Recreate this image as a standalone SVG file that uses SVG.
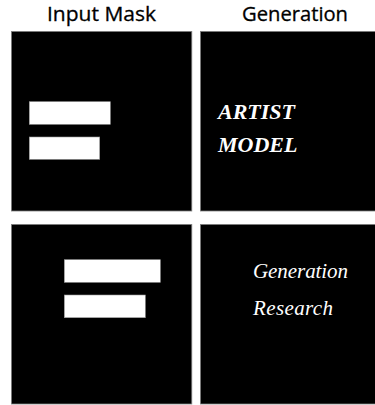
<svg xmlns="http://www.w3.org/2000/svg" width="375" height="405" viewBox="0 0 375 405">
<style>
.panel{fill:#000;stroke:#808080;stroke-width:0.8}
.bar{fill:#fff;stroke:#999;stroke-width:0.6}
.hdr{font-family:"Open Sans","Liberation Sans",sans-serif;font-size:20px;fill:#000;stroke:#000;stroke-width:0.3}
.art{font-family:"Liberation Serif",serif;font-style:italic;font-weight:bold;font-size:22px;fill:#fff}
.gen{font-family:"Liberation Serif",serif;font-style:italic;font-size:21px;fill:#fff}
</style>
<rect width="375" height="405" fill="#fff"/>
<text class="hdr" x="47" y="21" textLength="109" lengthAdjust="spacingAndGlyphs">Input Mask</text>
<text class="hdr" x="242" y="21" textLength="106" lengthAdjust="spacingAndGlyphs">Generation</text>
<g id="mask1">
<rect class="panel" x="11.4" y="31.4" width="180.4" height="179.6"/>
<rect class="bar" x="29.3" y="101.7" width="81" height="22.6"/>
<rect class="bar" x="29.3" y="137" width="70.4" height="22.3"/>
</g>
<g id="gen1">
<rect class="panel" x="200.4" y="31.4" width="176" height="179.6"/>
<text class="art" x="218" y="119">ARTIST</text>
<text class="art" x="218" y="152">MODEL</text>
</g>
<g id="mask2">
<rect class="panel" x="11.4" y="224.4" width="180.4" height="179.6"/>
<rect class="bar" x="64.3" y="259.7" width="96" height="22.6"/>
<rect class="bar" x="64.3" y="295" width="81" height="22.7"/>
</g>
<g id="gen2">
<rect class="panel" x="200.4" y="224.4" width="176" height="179.6"/>
<text class="gen" x="253" y="278" textLength="95">Generation</text>
<text class="gen" x="253" y="315" textLength="80">Research</text>
</g>
<g id="connectors"/>
</svg>
